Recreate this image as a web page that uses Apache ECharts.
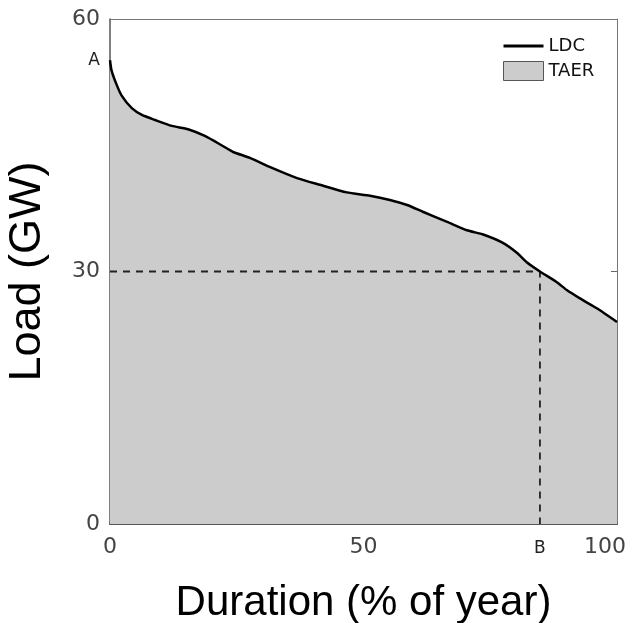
<!DOCTYPE html>
<html>
<head>
<meta charset="utf-8">
<script src="https://cdn.jsdelivr.net/npm/echarts@6/dist/echarts.min.js"></script>
<style>
  html, body { margin: 0; padding: 0; background: #fff; }
  #main { width: 640px; height: 623px; }
</style>
</head>
<body>
<div id="main"></div>
<script>
// load duration curve
var durationPct = [0, 0.3, 1.3, 2.3, 4.3, 6.3, 8.9, 12.2, 15.4, 18.7, 22.0, 24.3, 27.6, 31.6, 36.9,
    41.4, 46.7, 51.3, 55.2, 58.6, 61.7, 66.5, 70.4, 73.6, 77.5, 80.3, 82.2, 84.8, 88.2, 90.1,
    92.7, 96.1, 100];
var loadGW = [55.1, 53.9, 52.2, 50.9, 49.4, 48.6, 48.0, 47.3, 46.9, 46.1, 45.0, 44.2, 43.5, 42.4, 41.1,
    40.3, 39.4, 39.0, 38.5, 37.9, 37.1, 35.9, 34.9, 34.4, 33.4, 32.2, 31.1, 30.0, 28.7, 27.8,
    26.8, 25.6, 24.0];
var pointA = 55.1;   // load at 0 %
var pointB = 84.8;   // duration where load = 30 GW
var refLoad = 30;
var yTicks = [0, 30, 60];
var xTicks = [0, 50, 100];

var curve = durationPct.map(function (d, i) { return [d, loadGW[i]]; });
var guide = [[0, refLoad], [pointB, refLoad], [pointB, 0]];

var myChart = echarts.init(document.getElementById('main'));

var frame = '#777';
var labelFont = 'DejaVu Sans';

var option = {
    animation: false,
    grid: { left: 110, right: 23, top: 19, bottom: 99, outerBoundsMode: 'none', containLabel: false },
    legend: {
        orient: 'vertical',
        left: 503,
        top: 37,
        padding: 0,
        itemWidth: 40,
        itemHeight: 19,
        itemGap: 6,
        textStyle: { fontFamily: labelFont, fontSize: 18, color: '#111' },
        data: [
            { name: 'LDC', icon: 'path://M0,0H40V3H0Z', itemStyle: { color: '#000' } },
            { name: 'TAER', icon: 'rect', itemStyle: { color: '#cccccc', borderColor: '#555', borderWidth: 1 } }
        ]
    },
    xAxis: [
        {
            type: 'value',
            min: 0,
            max: 100,
            name: 'Duration (% of year)',
            nameLocation: 'middle',
            nameGap: 58,
            nameTextStyle: { fontFamily: 'Liberation Sans', fontSize: 42, color: '#000' },
            axisLine: { onZero: false, lineStyle: { color: '#555', width: 2 } },
            axisTick: { show: false },
            splitLine: { show: false },
            axisLabel: {
                customValues: xTicks.concat([pointB]),
                margin: 12,
                fontFamily: labelFont,
                fontSize: 22,
                color: '#444',
                formatter: function (v) {
                    if (v === pointB) return '{b|B}';
                    if (v === 100) return '{r|100}';
                    return String(v);
                },
                rich: {
                    b: { fontFamily: labelFont, fontSize: 17, color: '#222', padding: [4, 0, 0, 0] },
                    r: { fontFamily: labelFont, fontSize: 22, color: '#444', padding: [0, 24, 0, 0] }
                }
            }
        },
        {
            type: 'value',
            position: 'top',
            min: 0,
            max: 100,
            axisLine: { show: true, onZero: false, lineStyle: { color: frame, width: 1 } },
            axisTick: { show: false },
            axisLabel: { show: false },
            splitLine: { show: false }
        }
    ],
    yAxis: [
        {
            type: 'value',
            min: 0,
            max: 60,
            interval: 30,
            name: 'Load (GW)',
            nameLocation: 'middle',
            nameRotate: 90,
            nameGap: 60,
            nameTextStyle: { fontFamily: 'Liberation Sans', fontSize: 45, color: '#000' },
            axisLine: { show: true, onZero: false, lineStyle: { color: '#555', width: 1.5 } },
            axisTick: { show: true, inside: true, length: 6, lineStyle: { color: '#444' }, customValues: [30] },
            splitLine: { show: false },
            axisLabel: {
                customValues: yTicks.concat([pointA]),
                margin: 10,
                fontFamily: labelFont,
                fontSize: 22,
                color: '#444',
                formatter: function (v) {
                    if (v === pointA) return '{a|A}';
                    return String(v);
                },
                rich: {
                    a: { fontFamily: labelFont, fontSize: 17, color: '#222' }
                }
            }
        },
        {
            type: 'value',
            position: 'right',
            min: 0,
            max: 60,
            interval: 30,
            axisLine: { show: true, onZero: false, lineStyle: { color: frame, width: 1 } },
            axisTick: { show: true, inside: true, length: 6, lineStyle: { color: '#666' }, customValues: [30] },
            axisLabel: { show: false },
            splitLine: { show: false }
        }
    ],
    series: [
        {
            name: 'TAER',
            type: 'line',
            data: curve,
            smooth: 0.2,
            showSymbol: false,
            symbol: 'none',
            lineStyle: { width: 0 },
            areaStyle: { color: '#cccccc', opacity: 1 },
            z: 1
        },
        {
            name: 'guide',
            type: 'line',
            data: guide,
            symbol: 'none',
            lineStyle: { color: '#222', width: 1.8, type: [7, 6] },
            z: 2
        },
        {
            name: 'LDC',
            type: 'line',
            data: curve,
            smooth: 0.2,
            symbol: 'none',
            lineStyle: { color: '#000', width: 2.5 },
            z: 3
        }
    ]
};

myChart.setOption(option);
</script>
</body>
</html>
